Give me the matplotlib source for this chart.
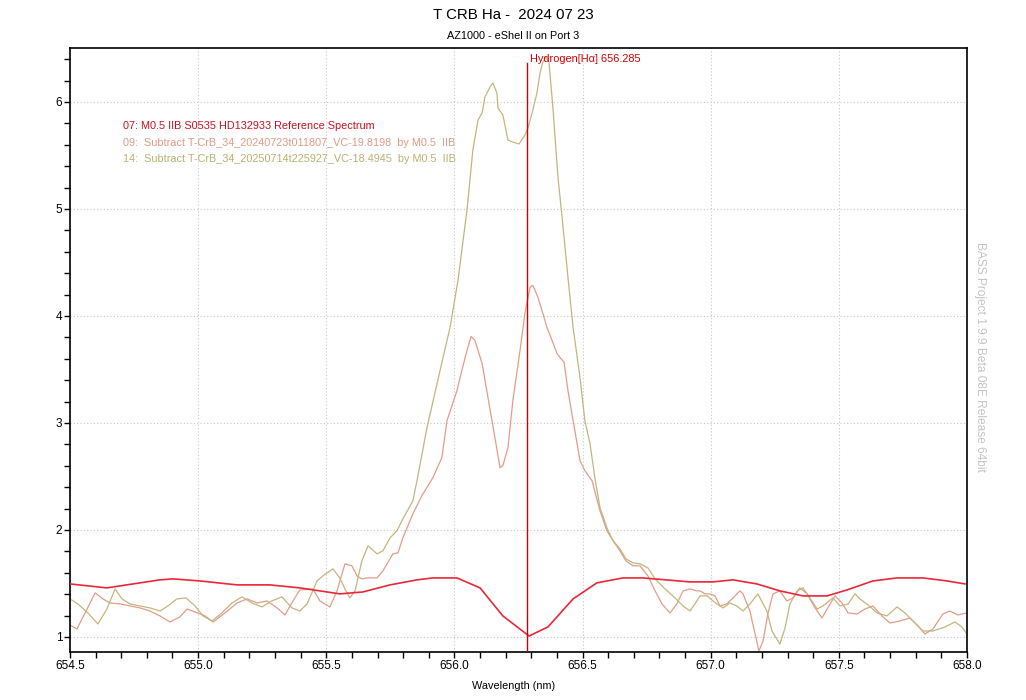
import matplotlib
matplotlib.use("Agg")
import matplotlib.pyplot as plt
from matplotlib.ticker import MultipleLocator, FormatStrFormatter

# ---------------------------------------------------------------
# data
# ---------------------------------------------------------------
ref_wave = [654.500, 654.644, 654.851, 654.902, 655.007, 655.152, 655.280, 655.397,
            655.553, 655.643, 655.749, 655.854, 655.916, 656.010, 656.100, 656.189,
            656.291, 656.365, 656.463, 656.556, 656.658, 656.736, 656.919, 657.009,
            657.087, 657.180, 657.270, 657.360, 657.454, 657.532, 657.633, 657.727,
            657.828, 657.922, 657.992]
ref_flux = [1.496, 1.459, 1.534, 1.543, 1.524, 1.487, 1.487, 1.459,
            1.403, 1.421, 1.487, 1.534, 1.552, 1.552, 1.459, 1.197,
            1.009, 1.094, 1.356, 1.506, 1.552, 1.552, 1.515, 1.515,
            1.534, 1.496, 1.431, 1.384, 1.384, 1.440, 1.524, 1.552,
            1.552, 1.524, 1.496]

s09_wave = [654.500, 654.527, 654.559, 654.598, 654.629, 654.656, 654.695, 654.734,
            654.773, 654.812, 654.851, 654.890, 654.929, 654.957, 654.988, 655.027,
            655.058, 655.105, 655.152, 655.191, 655.230, 655.269, 655.308, 655.339,
            655.370, 655.397, 655.448, 655.475, 655.514, 655.542, 655.573, 655.600,
            655.620, 655.639, 655.659, 655.698, 655.721, 655.760, 655.780, 655.799,
            655.838, 655.873, 655.916, 655.951, 655.971, 656.010, 656.022, 656.049,
            656.065, 656.080, 656.108, 656.131, 656.158, 656.178, 656.189, 656.209,
            656.228, 656.256, 656.275, 656.295, 656.306, 656.326, 656.345, 656.361,
            656.381, 656.400, 656.412, 656.428, 656.443, 656.463, 656.490, 656.509,
            656.537, 656.568, 656.595, 656.619, 656.646, 656.669, 656.697, 656.724,
            656.755, 656.783, 656.810, 656.841, 656.868, 656.892, 656.919, 656.946,
            656.958, 656.978, 656.997, 657.017, 657.036, 657.063, 657.087, 657.114,
            657.126, 657.153, 657.173, 657.188, 657.204, 657.223, 657.243, 657.270,
            657.297, 657.321, 657.348, 657.376, 657.407, 657.434, 657.457, 657.485,
            657.512, 657.536, 657.571, 657.602, 657.633, 657.668, 657.699, 657.738,
            657.777, 657.809, 657.836, 657.867, 657.906, 657.933, 657.964, 658.000]
s09_flux = [1.112, 1.075, 1.225, 1.412, 1.356, 1.318, 1.309, 1.290,
            1.272, 1.243, 1.197, 1.140, 1.187, 1.262, 1.234, 1.197,
            1.140, 1.225, 1.318, 1.356, 1.318, 1.337, 1.272, 1.206,
            1.337, 1.440, 1.449, 1.337, 1.281, 1.431, 1.684, 1.665,
            1.571, 1.543, 1.552, 1.552, 1.618, 1.777, 1.787, 1.927,
            2.152, 2.320, 2.489, 2.676, 3.022, 3.303, 3.425, 3.678,
            3.809, 3.772, 3.556, 3.238, 2.863, 2.582, 2.601, 2.770,
            3.210, 3.678, 4.024, 4.268, 4.286, 4.174, 4.024, 3.893,
            3.772, 3.650, 3.612, 3.566, 3.303, 3.022, 2.648, 2.554,
            2.461, 2.180, 1.993, 1.899, 1.805, 1.712, 1.665, 1.665,
            1.571, 1.431, 1.309, 1.225, 1.309, 1.431, 1.449, 1.431,
            1.431, 1.403, 1.403, 1.384, 1.290, 1.309, 1.365, 1.431,
            1.403, 1.243, 1.028, 0.869, 0.963, 1.215, 1.403, 1.431,
            1.337, 1.365, 1.459, 1.403, 1.272, 1.178, 1.272, 1.384,
            1.318, 1.225, 1.215, 1.262, 1.290, 1.197, 1.131, 1.150,
            1.178, 1.103, 1.028, 1.075, 1.215, 1.243, 1.206, 1.225]

s14_wave = [654.500, 654.531, 654.570, 654.609, 654.644, 654.676, 654.703, 654.734,
            654.773, 654.812, 654.851, 654.882, 654.917, 654.953, 654.988, 655.019,
            655.054, 655.093, 655.132, 655.171, 655.210, 655.249, 655.288, 655.327,
            655.366, 655.397, 655.425, 655.464, 655.487, 655.526, 655.553, 655.573,
            655.592, 655.612, 655.639, 655.663, 655.698, 655.721, 655.749, 655.776,
            655.795, 655.838, 655.854, 655.893, 655.944, 655.983, 656.014, 656.049,
            656.072, 656.092, 656.108, 656.119, 656.139, 656.150, 656.166, 656.170,
            656.189, 656.209, 656.228, 656.252, 656.275, 656.287, 656.303, 656.322,
            656.334, 656.345, 656.357, 656.369, 656.385, 656.404, 656.424, 656.443,
            656.463, 656.490, 656.509, 656.529, 656.548, 656.568, 656.595, 656.619,
            656.646, 656.669, 656.697, 656.724, 656.755, 656.783, 656.822, 656.861,
            656.892, 656.919, 656.946, 656.958, 656.986, 657.024, 657.048, 657.075,
            657.102, 657.126, 657.153, 657.184, 657.219, 657.239, 657.270, 657.290,
            657.309, 657.337, 657.360, 657.387, 657.415, 657.438, 657.477, 657.504,
            657.536, 657.563, 657.582, 657.614, 657.649, 657.688, 657.727, 657.758,
            657.789, 657.828, 657.867, 657.914, 657.953, 657.980, 658.000]
s14_flux = [1.356, 1.309, 1.225, 1.122, 1.262, 1.449, 1.356, 1.309,
            1.290, 1.272, 1.243, 1.290, 1.356, 1.365, 1.290, 1.197,
            1.150, 1.225, 1.318, 1.375, 1.318, 1.281, 1.337, 1.375,
            1.272, 1.243, 1.309, 1.524, 1.571, 1.637, 1.552, 1.449,
            1.365, 1.431, 1.712, 1.852, 1.777, 1.805, 1.927, 1.993,
            2.086, 2.273, 2.461, 2.957, 3.491, 3.893, 4.333, 4.989,
            5.551, 5.831, 5.897, 6.047, 6.140, 6.178, 6.084, 5.944,
            5.878, 5.644, 5.625, 5.607, 5.691, 5.757, 5.897, 6.084,
            6.271, 6.374, 6.421, 6.374, 5.925, 5.298, 4.830, 4.361,
            3.893, 3.425, 3.022, 2.807, 2.489, 2.208, 2.021, 1.899,
            1.824, 1.730, 1.693, 1.684, 1.646, 1.543, 1.449, 1.365,
            1.290, 1.243, 1.337, 1.384, 1.384, 1.309, 1.272, 1.318,
            1.290, 1.243, 1.309, 1.403, 1.243, 1.056, 0.934, 1.084,
            1.309, 1.431, 1.459, 1.365, 1.262, 1.290, 1.365, 1.290,
            1.309, 1.403, 1.356, 1.300, 1.225, 1.197, 1.281, 1.225,
            1.150, 1.056, 1.056, 1.094, 1.140, 1.094, 1.028]

legend_labels = ["07: M0.5 IIB S0535 HD132933 Reference Spectrum",
                 "09:  Subtract T-CrB_34_20240723t011807_VC-19.8198  by M0.5  IIB",
                 "14:  Subtract T-CrB_34_20250714t225927_VC-18.4945  by M0.5  IIB"]
line_colors = ["#E8283A", "#E39C8A", "#C2B67E"]
text_colors = ["#C8101E", "#E09A88", "#BBB070"]

halpha = 656.285
halpha_top = 6.365

# ---------------------------------------------------------------
# plot
# ---------------------------------------------------------------
plt.rcParams['font.family'] = ['Liberation Sans', 'DejaVu Sans']

fig = plt.figure(figsize=(10.26, 7.00), dpi=100)
ax = fig.add_axes([0.0682, 0.0686, 0.8743, 0.8629])

ax.plot(ref_wave, ref_flux, color=line_colors[0], lw=1.2, zorder=3)
ax.plot(s09_wave, s09_flux, color=line_colors[1], lw=0.9, zorder=2)
ax.plot(s14_wave, s14_flux, color=line_colors[2], lw=0.9, zorder=2)

ax.set_xlim(654.5, 658.0)
ax.set_ylim(0.86, 6.505)

# H-alpha marker
ax.plot([halpha, halpha], [0.86, halpha_top], color="#D00000", lw=1.0, zorder=4)
ax.text(halpha + 0.01, halpha_top - 0.01, "Hydrogen[H\u03b1] 656.285", color="#D00000",
        fontsize=7.9, ha="left", va="bottom")

ax.xaxis.set_major_locator(MultipleLocator(0.5))
ax.xaxis.set_minor_locator(MultipleLocator(0.1))
ax.yaxis.set_major_locator(MultipleLocator(1))
ax.yaxis.set_minor_locator(MultipleLocator(0.2))
ax.xaxis.set_major_formatter(FormatStrFormatter('%.1f'))
ax.tick_params(which="both", direction="out", length=4, width=1, labelsize=8.5, pad=1.5)
ax.grid(True, which="major", color="#C8C8C8", linestyle=(0, (1, 2)), lw=0.8)
for s in ax.spines.values():
    s.set_linewidth(1.2)

ax.set_xlabel("Wavelength (nm)", fontsize=7.8)
ax.xaxis.set_label_coords(0.495, -0.048)

fig.text(0.5, 0.979, "T CRB Ha -  2024 07 23", ha="center", va="center", fontsize=10.8)
fig.text(0.5, 0.949, "AZ1000 - eShel II on Port 3", ha="center", va="center", fontsize=7.8)

# legend as coloured text lines
for i, lab in enumerate(legend_labels):
    ax.text(654.706, 5.775 - i * 0.155, lab, color=text_colors[i], fontsize=7.8,
            ha="left", va="center")

fig.text(0.955, 0.49, "BASS Project 1.9.9 Beta 08E Release 64bit", rotation=-90,
         color="#C4C4C4", fontsize=8.6, ha="center", va="center")

fig.savefig("out.png", dpi=100)
